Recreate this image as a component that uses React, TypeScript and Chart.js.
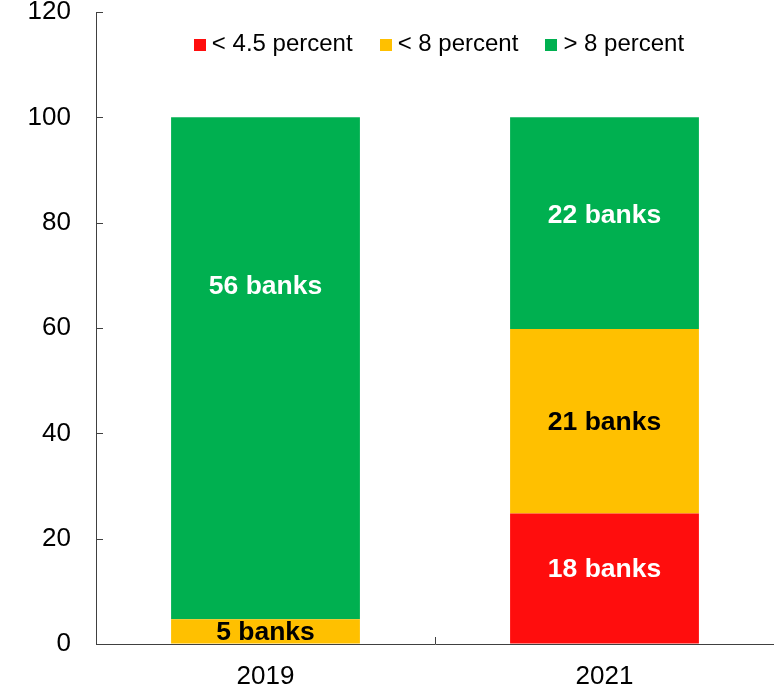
import React, { useEffect, useRef } from "react";
import { Chart, registerables } from "chart.js";

Chart.register(...registerables);

const categories = ["2019", "2021"];
const seriesNames = ["< 4.5 percent", "< 8 percent", "> 8 percent"];
const below45 = [0, 24.8];
const below8 = [4.7, 35.0];
const above8 = [95.3, 40.2];
const banksBelow45: (number | null)[] = [null, 18];
const banksBelow8: (number | null)[] = [5, 21];
const banksAbove8: (number | null)[] = [56, 22];

const COLORS = ["#FF0D0D", "#FFC000", "#00B050"];
const LABEL_COLORS = ["#FFFFFF", "#000000", "#FFFFFF"];
const FONT = "'Liberation Sans', Arial, sans-serif";
const AXIS_COLOR = "#404040";

const innerTicks = {
  id: "innerTicks",
  afterDraw(chart: any) {
    const ctx = chart.ctx;
    const { left, bottom } = chart.chartArea;
    const y = chart.scales.y;
    const x = chart.scales.x;
    ctx.save();
    ctx.strokeStyle = AXIS_COLOR;
    ctx.lineWidth = 1;
    y.ticks.forEach((_: any, i: number) => {
      const py = Math.round(y.getPixelForTick(i)) + 0.5;
      ctx.beginPath();
      ctx.moveTo(left, py);
      ctx.lineTo(left + 7, py);
      ctx.stroke();
    });
    for (let i = 0; i < x.ticks.length - 1; i++) {
      const px = Math.round((x.getPixelForTick(i) + x.getPixelForTick(i + 1)) / 2) + 0.5;
      ctx.beginPath();
      ctx.moveTo(px, bottom);
      ctx.lineTo(px, bottom - 7);
      ctx.stroke();
    }
    ctx.restore();
  },
};

const barLabels = {
  id: "barLabels",
  afterDatasetsDraw(chart: any, _args: any, opts: any) {
    const ctx = chart.ctx;
    ctx.save();
    ctx.font = `bold 26.5px ${FONT}`;
    ctx.textAlign = "center";
    ctx.textBaseline = "middle";
    chart.data.datasets.forEach((ds: any, di: number) => {
      const meta = chart.getDatasetMeta(di);
      meta.data.forEach((bar: any, i: number) => {
        const n = ds.banks[i];
        if (n == null) return;
        const key = `${di}-${i}`;
        let cy = (bar.y + bar.base) / 2;
        if (opts.anchors && opts.anchors[key] != null) {
          cy = chart.scales.y.getPixelForValue(opts.anchors[key]);
        }
        ctx.fillStyle = ds.labelColor;
        ctx.fillText(`${n} banks`, bar.x, cy + 1);
      });
    });
    ctx.restore();
  },
};

const innerLegend = {
  id: "innerLegend",
  afterDraw(chart: any) {
    const ctx = chart.ctx;
    const { left, right, top } = chart.chartArea;
    ctx.save();
    ctx.font = `24px ${FONT}`;
    ctx.textBaseline = "middle";
    ctx.textAlign = "left";
    const box = 12;
    const gap = 6;
    const itemGap = 27;
    const items = chart.data.datasets.map((ds: any) => ({
      label: ds.label,
      color: ds.backgroundColor,
      w: box + gap + ctx.measureText(ds.label).width,
    }));
    const total = items.reduce((s: number, it: any) => s + it.w, 0) + itemGap * (items.length - 1);
    let x = (left + right) / 2 + 4 - total / 2;
    const cy = top + 32.5;
    items.forEach((it: any) => {
      ctx.fillStyle = it.color;
      ctx.fillRect(Math.round(x), Math.round(cy - box / 2), box, box);
      ctx.fillStyle = "#000000";
      ctx.fillText(it.label, x + box + gap, cy);
      x += it.w + itemGap;
    });
    ctx.restore();
  },
};

export default function App() {
  const ref = useRef<HTMLCanvasElement>(null);
  useEffect(() => {
    if (!ref.current) return;
    const chart = new Chart(ref.current, {
      type: "bar",
      data: {
        labels: categories,
        datasets: [
          { label: seriesNames[0], data: below45, backgroundColor: COLORS[0], banks: banksBelow45, labelColor: LABEL_COLORS[0] } as any,
          { label: seriesNames[1], data: below8, backgroundColor: COLORS[1], banks: banksBelow8, labelColor: LABEL_COLORS[1] } as any,
          { label: seriesNames[2], data: above8, backgroundColor: COLORS[2], banks: banksAbove8, labelColor: LABEL_COLORS[2] } as any,
        ],
      },
      options: {
        animation: false,
        responsive: false,
        devicePixelRatio: 1,
        layout: { padding: { top: 12, right: 0, left: 0, bottom: 0 } },
        datasets: { bar: { barPercentage: 0.557, categoryPercentage: 1, borderWidth: 0 } },
        plugins: {
          legend: { display: false },
          tooltip: { enabled: false },
          barLabels: { anchors: { "2-0": 68, "2-1": 81.5, "0-1": 14.3 } },
        } as any,
        scales: {
          x: {
            stacked: true,
            grid: { display: true, drawOnChartArea: false, drawTicks: false, offset: true },
            border: { display: true, color: AXIS_COLOR, width: 1 },
            ticks: { color: "#000000", font: { family: FONT, size: 26 }, padding: 17 },
            afterFit(scale: any) {
              scale.height = 45;
              scale.paddingLeft = 0;
              scale.paddingRight = 0;
            },
          },
          y: {
            stacked: true,
            min: 0,
            max: 120,
            grid: { display: true, drawOnChartArea: false, drawTicks: false },
            border: { display: true, color: AXIS_COLOR, width: 1 },
            ticks: { stepSize: 20, color: "#000000", font: { family: FONT, size: 26 }, padding: 25 },
            afterFit(scale: any) {
              scale.width = 96;
              scale.paddingTop = 0;
              scale.paddingBottom = 0;
            },
          },
        },
      },
      plugins: [innerTicks, barLabels, innerLegend],
    });
    return () => chart.destroy();
  }, []);
  return (
    <div style={{ position: "fixed", left: 0, top: 0, width: 774, height: 689, background: "#ffffff" }}>
      <canvas ref={ref} width={774} height={689} style={{ display: "block" }} />
    </div>
  );
}
